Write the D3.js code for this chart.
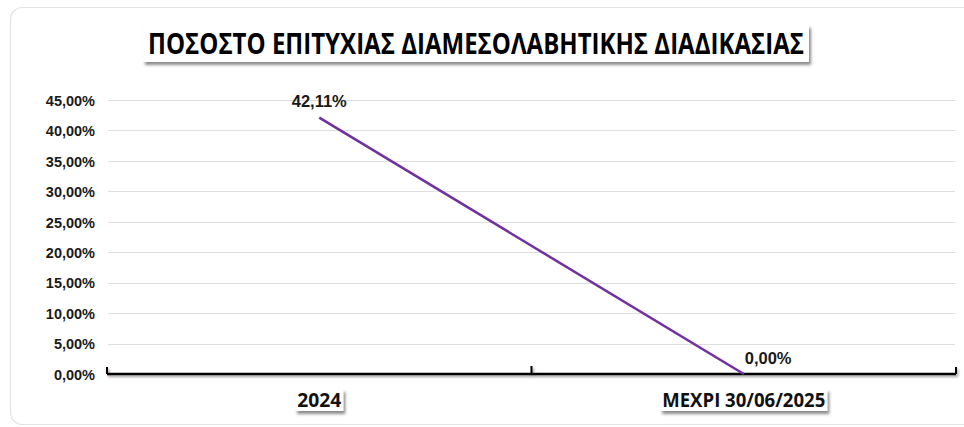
<!DOCTYPE html>
<html>
<head>
<meta charset="utf-8">
<script src="https://cdn.jsdelivr.net/npm/d3@7"></script>
<style>
  body { margin: 0; background: #fff; }
  svg { display: block; }
  .ytick text { font-family: "Liberation Sans", Arial, sans-serif; font-weight: bold; font-size: 14.5px; fill: #1a1a1a; }
</style>
</head>
<body>
<div id="chart"></div>
<script>
var svgWidth = 964;
var svgHeight = 427;

// data
var categories = ["2024", "ΜΕΧΡΙ 30/06/2025"];
var rates = [0.4211, 0.0];
var valueLabels = ["42,11%", "0,00%"];
var yTicks = [0, 0.05, 0.10, 0.15, 0.20, 0.25, 0.30, 0.35, 0.40, 0.45];
var yTickLabels = ["0,00%", "5,00%", "10,00%", "15,00%", "20,00%", "25,00%", "30,00%", "35,00%", "40,00%", "45,00%"];
var title = "ΠΟΣΟΣΤΟ ΕΠΙΤΥΧΙΑΣ ΔΙΑΜΕΣΟΛΑΒΗΤΙΚΗΣ ΔΙΑΔΙΚΑΣΙΑΣ";

var plot = { left: 107, right: 956, top: 100, bottom: 374 };

var svg = d3.select("#chart")
  .append("svg")
  .attr("width", svgWidth)
  .attr("height", svgHeight);

// shadows
var defs = svg.append("defs");
defs.append("filter").attr("id", "boxShadow")
  .attr("x", "-10%").attr("y", "-30%").attr("width", "130%").attr("height", "180%")
  .append("feDropShadow")
  .attr("dx", 2).attr("dy", 3).attr("stdDeviation", 1.6)
  .attr("flood-color", "#000").attr("flood-opacity", 0.45);
defs.append("filter").attr("id", "lineShadow")
  .attr("x", "-5%").attr("y", "-100%").attr("width", "110%").attr("height", "400%")
  .append("feDropShadow")
  .attr("dx", 1.5).attr("dy", 2).attr("stdDeviation", 1.2)
  .attr("flood-color", "#000").attr("flood-opacity", 0.35);

// card
svg.append("rect")
  .attr("x", 10.5).attr("y", 7.5)
  .attr("width", 1000).attr("height", 417)
  .attr("rx", 12)
  .attr("fill", "#fff")
  .attr("stroke", "#e3e3e3")
  .attr("stroke-width", 1.2);

// scales
var xScale = d3.scaleBand()
  .domain(categories)
  .range([plot.left, plot.right]);

var yScale = d3.scaleLinear()
  .domain([0, 0.45])
  .range([plot.bottom, plot.top]);

// gridlines
svg.append("g")
  .selectAll("line")
  .data(yTicks.filter(d => d > 0))
  .enter()
  .append("line")
  .attr("x1", plot.left + 1)
  .attr("x2", plot.right - 1)
  .attr("y1", d => Math.round(yScale(d)) + 0.5)
  .attr("y2", d => Math.round(yScale(d)) + 0.5)
  .attr("stroke", "#dedede")
  .attr("stroke-width", 1);

// y axis labels
var leftAxis = d3.axisLeft(yScale)
  .tickValues(yTicks)
  .tickFormat((d, i) => yTickLabels[i])
  .tickSize(0)
  .tickPadding(12);

var yAxis = svg.append("g")
  .attr("class", "ytick")
  .attr("transform", `translate(${plot.left}, 0)`)
  .call(leftAxis);
yAxis.select(".domain").remove();
yAxis.selectAll("text").attr("dy", "0.36em");

// x axis line with small ticks at band edges
var edges = [plot.left, plot.left + xScale.bandwidth(), plot.right];
var axisG = svg.append("g").attr("filter", "url(#lineShadow)");
axisG.append("line")
  .attr("x1", plot.left).attr("x2", plot.right)
  .attr("y1", plot.bottom).attr("y2", plot.bottom)
  .attr("stroke", "#000").attr("stroke-width", 2.5);
axisG.selectAll("line.tk")
  .data(edges)
  .enter()
  .append("line")
  .attr("class", "tk")
  .attr("x1", d => d).attr("x2", d => d)
  .attr("y1", plot.bottom).attr("y2", (d, i) => plot.bottom - (i === 1 ? 8 : 7))
  .attr("stroke", "#000").attr("stroke-width", 2);

// category labels in boxes
var catG = svg.append("g")
  .selectAll("g")
  .data(categories)
  .enter()
  .append("g");
var catWidths = [44, 163];
catG.append("rect")
  .attr("x", (d, i) => xScale(d) + xScale.bandwidth() / 2 - catWidths[i] / 2 - 2)
  .attr("y", 389)
  .attr("width", (d, i) => catWidths[i] + 4)
  .attr("height", 22)
  .attr("fill", "#fff")
  .attr("filter", "url(#boxShadow)");
catG.append("text")
  .attr("x", d => xScale(d) + xScale.bandwidth() / 2)
  .attr("y", 407)
  .attr("text-anchor", "middle")
  .attr("font-family", "'Open Sans', 'Noto Sans', sans-serif")
  .attr("font-weight", "bold")
  .attr("font-size", 19)
  .attr("fill", "#111")
  .attr("textLength", (d, i) => catWidths[i])
  .attr("lengthAdjust", "spacingAndGlyphs")
  .text(d => d);

// line
var lineGen = d3.line()
  .x((d, i) => xScale(categories[i]) + xScale.bandwidth() / 2)
  .y(d => yScale(d));

svg.append("path")
  .datum(rates)
  .attr("d", lineGen)
  .attr("fill", "none")
  .attr("stroke", "#7030a0")
  .attr("stroke-width", 2.5);

// value labels
svg.append("g")
  .selectAll("text")
  .data(rates)
  .enter()
  .append("text")
  .attr("x", (d, i) => xScale(categories[i]) + xScale.bandwidth() / 2 + (i === 0 ? 0 : 1))
  .attr("y", (d, i) => yScale(d) - (i === 0 ? 11 : 10))
  .attr("text-anchor", (d, i) => i === 0 ? "middle" : "start")
  .attr("font-family", "'Liberation Sans', Arial, sans-serif")
  .attr("font-weight", "bold")
  .attr("font-size", 16.5)
  .attr("fill", "#1a1a1a")
  .text((d, i) => valueLabels[i]);

// title
var titleG = svg.append("g");
titleG.append("rect")
  .attr("x", 143).attr("y", 25)
  .attr("width", 666).attr("height", 37)
  .attr("fill", "#fff")
  .attr("filter", "url(#boxShadow)");
titleG.append("text")
  .attr("x", 476)
  .attr("y", 54)
  .attr("text-anchor", "middle")
  .attr("font-family", "'Open Sans', 'Noto Sans', sans-serif")
  .attr("font-weight", "bold")
  .attr("font-size", 29)
  .attr("fill", "#000")
  .attr("textLength", 656)
  .attr("lengthAdjust", "spacingAndGlyphs")
  .text(title);
</script>
</body>
</html>
